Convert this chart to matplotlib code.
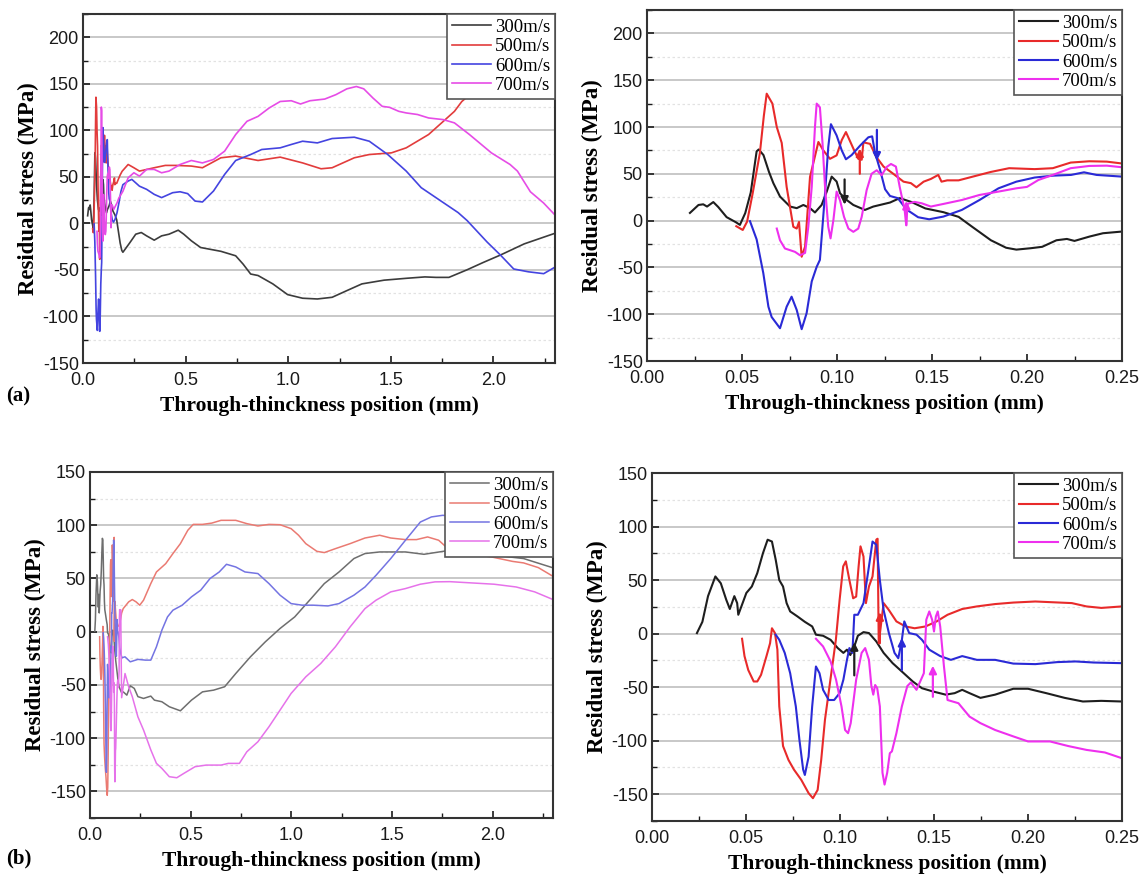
import numpy as np
import matplotlib
matplotlib.use("Agg")
import matplotlib.pyplot as plt
from matplotlib.ticker import MultipleLocator

plt.rcParams['axes.unicode_minus'] = False

LABELS = ["300m/s", "500m/s", "600m/s", "700m/s"]
XLABEL = "Through-thinckness position (mm)"
YLABEL = "Residual stress (MPa)"

# ---------------- (a) right panel (zoom 0-0.25 mm) ----------------
AR_300_x = [0.0226,0.0271,0.0296,0.0316,0.0349,0.0375,0.0419,0.047,0.0489,0.0517,0.0546,0.0577,0.0588,0.0613,0.0642,0.0665,0.07,0.0753,0.0788,0.0823,0.0858,0.0884,0.0919,0.0946,0.0972,0.0998,0.1016,0.1051,0.1086,0.1147,0.1191,0.1279,0.133,0.139,0.1465,0.156,0.164,0.171,0.181,0.189,0.1944,0.202,0.208,0.2155,0.221,0.225,0.233,0.240,0.25]
AR_300_y = [8.2,16.7,17.4,15,19.8,14.5,3.7,-2,-4.6,8,30,74,76,70,52,40,25.7,15,13.3,16.7,13.3,8.7,16.7,31,47,41.7,29.2,22,16.7,11.4,15,19.3,24,20,13,9,4,-6.4,-21,-29,-31,-29.5,-28,-21,-19.6,-21.7,-17,-13.5,-11.7]

AR_500_x = [0.047,0.0504,0.0527,0.0556,0.0594,0.0615,0.063,0.066,0.0683,0.0709,0.0735,0.077,0.0788,0.080,0.0814,0.0832,0.0858,0.0902,0.0928,0.0963,0.0998,0.1025,0.1047,0.1086,0.1112,0.113,0.1139,0.1174,0.1207,0.1245,0.1293,0.135,0.1389,0.1418,0.1456,0.1494,0.1533,0.155,0.158,0.164,0.1715,0.181,0.1906,0.204,0.2136,0.223,0.2328,0.242,0.25]
AR_500_y = [-6,-10,-1,29,72,112,135.6,125,100,83,36,-6.6,-8.5,-1.4,-38.6,-27.8,46.7,84,75,66,69.7,86,94.6,77,66,65,83.6,82,68,57.7,50.5,41.6,40,35.6,41.6,44.5,48.8,41.6,43,43,47,52,56,55,56,62,63.4,63,61]

AR_600_x = [0.0542,0.0577,0.0612,0.0639,0.0656,0.0700,0.0735,0.0761,0.0788,0.0814,0.0840,0.0867,0.0893,0.0910,0.0937,0.0954,0.0968,0.0998,0.1025,0.1047,0.1077,0.1121,0.1165,0.1185,0.1200,0.1226,0.1253,0.1279,0.132,0.1365,0.1427,0.1485,0.156,0.1657,0.175,0.185,0.1944,0.204,0.2136,0.2232,0.23,0.2366,0.25]
AR_600_y = [-0.6,-20.1,-56,-92,-103,-115,-92,-81.3,-95.5,-116,-99,-65,-49.4,-42,29,78.6,103,91,75,65.5,70,80,89,90,72.5,54.8,33.5,26.3,24,12,3.6,1.4,4.3,11.4,22,34.5,41.6,46,48,48.8,51.6,48.8,47]

AR_700_x = [0.0683,0.0700,0.0726,0.0753,0.0779,0.0805,0.0832,0.0849,0.0867,0.0884,0.0893,0.0910,0.0924,0.0937,0.0954,0.0966,0.0981,0.0998,0.1016,0.1037,0.1060,0.1086,0.1112,0.1130,0.1156,0.1182,0.1209,0.1235,0.1262,0.1284,0.131,0.133,0.1356,0.1364,0.1372,0.1408,0.1446,0.1494,0.156,0.1657,0.175,0.185,0.1944,0.2,0.206,0.2136,0.223,0.2328,0.242,0.25]
AR_700_y = [-8.5,-21,-29.8,-31.6,-33.4,-37,-34.5,-6.6,36,100,125,121,82,36,-6.6,-19,0.6,31,21.6,4,-8.5,-12,-8.5,4,32.5,50,53.8,48.5,57.4,60.5,57.7,36,11.4,-4.6,18,20,18.5,15,17.8,22,27.4,31,34.5,36,43.4,48.8,56,58.4,58.7,57]

# arrows (x, tail, head) per series order
AR_ARROW_x = [0.104, 0.112, 0.121, 0.1365]
AR_ARROW_tail = [44, 50, 97, -5]
AR_ARROW_head = [17, 77, 64, 21]

# ---------------- (a) left panel (full depth, x >= 0.2) ----------------
AL_300_x = [0.211,0.229,0.257,0.284,0.31,0.347,0.383,0.419,0.464,0.491,0.528,0.573,0.672,0.744,0.78,0.817,0.853,0.925,0.997,1.07,1.142,1.214,1.286,1.359,1.467,1.575,1.666,1.72,1.783,1.87,1.95,2.034,2.15,2.3]
AL_300_y = [-26,-20.5,-11.6,-9.8,-13.4,-18,-13.4,-11.6,-7.3,-11.6,-18.7,-25.9,-30,-34.8,-43.7,-54.4,-56,-65,-76.5,-80.4,-81.2,-79.4,-72.2,-65,-61,-59,-57.5,-58,-58,-50,-42,-34,-22,-10.6]

AL_500_x = [0.22,0.248,0.275,0.347,0.401,0.455,0.528,0.582,0.672,0.744,0.853,0.961,1.07,1.16,1.214,1.322,1.395,1.503,1.575,1.684,1.756,1.81,1.846,2.0,2.15,2.3]
AL_500_y = [63.3,59.8,56.2,59.8,62.3,62.3,61.6,59.8,70.5,72.3,67.6,71.2,65,58.7,59.8,70.5,74,75.8,81.2,95.5,109.7,120.4,131,160,178,192]

AL_600_x = [0.22,0.238,0.275,0.31,0.347,0.383,0.437,0.473,0.51,0.546,0.582,0.636,0.69,0.744,0.817,0.871,0.961,1.015,1.07,1.142,1.214,1.322,1.395,1.485,1.575,1.648,1.756,1.828,1.872,1.969,2.034,2.099,2.17,2.245,2.3]
AL_600_y = [45.5,47.3,40,36.6,31.2,27.7,33,34,32,24,23,34.8,52.6,67.6,74,79.4,81.2,84.8,88.3,86.5,91.2,92.6,88.3,74,56.2,38.4,22.3,11.6,3,-20,-34,-49,-52,-54,-47]

AL_700_x = [0.22,0.248,0.275,0.31,0.347,0.383,0.419,0.473,0.528,0.582,0.636,0.69,0.744,0.799,0.853,0.907,0.961,1.015,1.06,1.106,1.178,1.232,1.286,1.332,1.368,1.413,1.458,1.494,1.539,1.575,1.63,1.684,1.756,1.81,1.883,1.99,2.081,2.117,2.18,2.244,2.3]
AL_700_y = [49,54.4,50.8,58,58,54.4,56.2,63.3,67.6,65,68.7,77.6,95.5,109.7,115,124,131,131.8,128.3,131.8,133.6,138.3,144.6,147.1,144.6,134.7,125.8,124.7,120.4,118.7,117,113.3,111.5,108,95.5,75.8,63.3,56.2,34,22,9]

# ---------------- (b) right panel (zoom 0-0.25 mm) ----------------
BR_300_x = [0.0239,0.0268,0.0298,0.0337,0.0366,0.0395,0.0414,0.0438,0.0453,0.0459,0.0482,0.0502,0.0531,0.056,0.059,0.0615,0.0638,0.0658,0.0677,0.0697,0.0716,0.0735,0.0774,0.0813,0.0852,0.0872,0.091,0.095,0.0988,0.1018,0.1037,0.1055,0.1076,0.1095,0.1125,0.1154,0.1193,0.1232,0.128,0.1339,0.1387,0.1436,0.1494,0.1562,0.161,0.165,0.1689,0.1747,0.1825,0.1922,0.2,0.2097,0.2195,0.2292,0.239,0.25]
BR_300_y = [0.5,11,35,53.4,47,31.6,23,35,28.5,17.6,28.5,38,44,56.5,75,87.7,86,69,50,44,28.5,20.7,16,11,6.7,-1,-2,-5.8,-13.5,-18,-15,-20,-12,-2,1.4,0.5,-7.3,-18,-27.6,-37,-44.7,-51,-54,-57,-55.6,-52.5,-55.6,-60,-57,-51.5,-51.5,-55.6,-60,-63.4,-62.8,-63.4]

BR_500_x = [0.0479,0.0492,0.0512,0.0541,0.056,0.058,0.0609,0.0628,0.0638,0.0654,0.0667,0.0677,0.0697,0.0726,0.0755,0.0794,0.0833,0.0856,0.0881,0.09,0.092,0.0949,0.0978,0.0998,0.1017,0.1031,0.105,0.107,0.1086,0.1099,0.1109,0.1125,0.1138,0.1154,0.1173,0.1193,0.12,0.1206,0.1232,0.126,0.13,0.1348,0.1397,0.1455,0.1514,0.1572,0.165,0.1728,0.1825,0.1922,0.2039,0.2117,0.2233,0.2311,0.239,0.25]
BR_500_y = [-4.8,-21,-34,-44.7,-44.7,-38.5,-21,-9,5,0.5,-15,-68,-105,-118,-127,-136.6,-149,-153.7,-146,-118,-80.5,-43,-5.8,31.6,62.8,67.5,50,33,34.6,62.8,81.5,72,28.5,44,53.4,87.7,88.6,-9,28.5,22,11.4,6.7,5,6.7,11.4,17.6,23,25.4,27.6,29,30,29.4,28.5,25.4,24,25.4]

BR_600_x = [0.0658,0.0677,0.0706,0.0735,0.0765,0.0784,0.0804,0.0813,0.0833,0.0852,0.0872,0.0891,0.091,0.094,0.0969,0.0998,0.1018,0.1037,0.105,0.1066,0.1076,0.1095,0.1125,0.1154,0.1173,0.1193,0.1212,0.1232,0.126,0.129,0.131,0.1329,0.1342,0.1368,0.1407,0.1436,0.1475,0.1533,0.159,0.165,0.1728,0.1825,0.1922,0.2039,0.2156,0.2253,0.235,0.25]
BR_600_y = [-1,-5.8,-18,-37,-68,-99,-127,-132,-115,-68,-30.7,-37,-52.5,-62,-62,-55.6,-43,-24.5,-13.5,-18,17.6,17.6,28.5,62.8,86,83,50,22,0.5,-18,-23,-6,11.4,0.5,-1,-5.8,-15,-21,-24.5,-21,-24.5,-24.5,-28,-28.5,-26.6,-26,-27,-27.6]

BR_700_x = [0.0872,0.091,0.095,0.0979,0.1008,0.1027,0.1043,0.1057,0.1086,0.1115,0.1134,0.1154,0.1167,0.1177,0.1187,0.1198,0.1212,0.1226,0.1237,0.1251,0.1265,0.1276,0.13,0.1329,0.1358,0.1377,0.1407,0.1446,0.1459,0.1475,0.149,0.1500,0.151,0.152,0.1533,0.1553,0.1572,0.163,0.1689,0.1747,0.1825,0.1922,0.2,0.2117,0.2214,0.2311,0.2409,0.25]
BR_700_y = [-4.8,-12,-26,-43,-68,-90,-93,-83.6,-43,-18,-13.5,-24.5,-49,-57,-48,-51,-68,-130,-141,-130,-111.7,-110,-93,-68,-49,-45.6,-52.5,-37,13,20.7,13,2,16,20.7,6.7,-30.7,-62,-65,-77.5,-83.6,-90,-96,-100.7,-100.7,-105,-108.6,-111,-116.4]

BR_ARROW_x = [0.1076, 0.1212, 0.1329, 0.1494]
BR_ARROW_tail = [-39, -9, -34, -59]
BR_ARROW_head = [-8, 20, -4, -30]

# ---------------- (b) left panel (full depth, x >= 0.16) ----------------
BL_300_x = [0.165,0.183,0.2,0.22,0.238,0.266,0.302,0.32,0.357,0.394,0.449,0.504,0.559,0.614,0.669,0.724,0.797,0.871,0.944,1.017,1.091,1.164,1.237,1.311,1.366,1.439,1.494,1.567,1.659,1.769,1.9,2.0,2.154,2.3]
BL_300_y = [-56.5,-59.6,-50.8,-53.3,-61,-62.7,-60.5,-64.3,-65.8,-70.5,-74.3,-64.3,-56.5,-54.9,-51.7,-39.3,-23.6,-9.5,3,13.9,29.6,45.2,56.1,68.7,73.4,74.9,74.9,74.9,72.7,75.9,74,72,68.7,60]

BL_500_x = [0.165,0.192,0.21,0.229,0.247,0.266,0.302,0.33,0.376,0.412,0.449,0.486,0.513,0.559,0.605,0.651,0.724,0.779,0.834,0.889,0.944,0.999,1.036,1.072,1.127,1.164,1.219,1.292,1.366,1.439,1.494,1.567,1.622,1.677,1.732,1.769,1.9,2.0,2.1,2.154,2.227,2.3]
BL_500_y = [21.7,28,30.2,28,24.9,29.6,45.2,56.1,63.9,73.4,82.7,95.3,100.8,100.8,102,104.6,104.6,101.5,99.3,100.8,100.5,96.8,90.6,82.7,75.5,74.3,78,82.7,88,90.6,88,86.5,86.5,89,85.9,79.6,73,70,66,64.6,60.2,52]

BL_600_x = [0.174,0.2,0.238,0.275,0.302,0.33,0.357,0.385,0.412,0.458,0.504,0.55,0.596,0.642,0.678,0.724,0.77,0.834,0.889,0.944,0.999,1.054,1.109,1.182,1.237,1.311,1.366,1.421,1.494,1.567,1.641,1.696,1.751,1.9,2.1,2.3]
BL_600_y = [-23.6,-28.3,-26,-26.7,-26.7,-14.2,1.4,13.9,20.2,24.9,32.7,39,49.9,56.1,63.3,60.8,56.1,54.6,45.2,34.3,26.4,24.9,24.9,24.2,26.4,34.3,42,53,68.7,85.9,103,107.8,109.3,108,100,90]

BL_700_x = [0.174,0.192,0.21,0.238,0.266,0.302,0.33,0.357,0.394,0.431,0.467,0.522,0.577,0.651,0.687,0.742,0.779,0.834,0.889,0.944,0.999,1.072,1.146,1.219,1.292,1.366,1.421,1.494,1.567,1.641,1.714,1.787,1.897,2.007,2.117,2.209,2.3]
BL_700_y = [-39.3,-51.7,-61,-80,-92.4,-111,-123.7,-128.4,-136.2,-137.2,-133,-126.8,-125.3,-125.3,-123.7,-123.7,-112.8,-103.4,-89.3,-73.7,-58,-42.4,-29.9,-14.2,4.5,21.7,29.6,37.4,40.5,44.6,46.8,47,45.8,44.6,42,37.4,30.2]

COLORS_RIGHT = ["#1e1e1e", "#e82a2a", "#2a2ad6", "#ee30ee"]
COLORS_AL = ["#3c3c3c", "#e23c3c", "#4444e0", "#e64ce6"]
COLORS_BL = ["#6e6e6e", "#ea7a72", "#7474e2", "#e672ea"]

W, H = 1146, 877
fig = plt.figure(figsize=(W / 100, H / 100), dpi=100)


def splice(xr, yr, xl, yl, cut):
    xr = np.asarray(xr); yr = np.asarray(yr)
    xl = np.asarray(xl); yl = np.asarray(yl)
    m1 = xr < cut
    m2 = xl >= cut
    return np.concatenate([xr[m1], xl[m2]]), np.concatenate([yr[m1], yl[m2]])


def style(ax, xlim, ylim, xmaj, xmin):
    ax.set_xlim(*xlim)
    ax.set_ylim(*ylim)
    ax.xaxis.set_major_locator(MultipleLocator(xmaj))
    ax.xaxis.set_minor_locator(MultipleLocator(xmin))
    ax.yaxis.set_major_locator(MultipleLocator(50))
    ax.yaxis.set_minor_locator(MultipleLocator(25))
    ax.grid(True, which='major', axis='y', color='#c4c4c4', lw=1.3)
    ax.grid(True, which='minor', axis='y', color='#e2e2e2', lw=0.9, ls=(0, (2, 2)))
    ax.set_axisbelow(True)
    ax.tick_params(which='both', direction='in', top=False, right=False,
                   labelsize=13, colors='#1a1a1a')
    ax.tick_params(axis='y', which='both', pad=3)
    ax.tick_params(axis='x', which='both', pad=6.5)
    ax.tick_params(which='major', length=5, width=1.2)
    ax.tick_params(which='minor', length=3.5, width=1.0)
    for lab in ax.get_xticklabels() + ax.get_yticklabels():
        lab.set_fontfamily('Liberation Sans')
    for s in ax.spines.values():
        s.set_color('#333333')
        s.set_linewidth(1.5)
    ax.set_xlabel(XLABEL, fontfamily='Liberation Serif', fontweight='bold',
                  fontsize=15.5, labelpad=5)
    ax.set_ylabel(YLABEL, fontfamily='Liberation Serif', fontweight='bold',
                  fontsize=16.5, labelpad=3)
    leg = ax.legend(loc='upper right', borderaxespad=0, fancybox=False,
                    framealpha=1, edgecolor='#555555', handlelength=2.1,
                    handletextpad=0.2, labelspacing=0.12, borderpad=0.25,
                    prop={'family': 'Liberation Serif', 'size': 13.5})
    leg.get_frame().set_linewidth(1.2)
    leg.set_zorder(10)


def arrows(ax, xs, tails, heads, colors):
    for x, t, h, c in zip(xs, tails, heads, colors):
        ax.annotate('', xy=(x, h), xytext=(x, t),
                    arrowprops=dict(arrowstyle='-|>', color=c, lw=1.6,
                                    mutation_scale=11, shrinkA=0, shrinkB=0))


AR = [(AR_300_x, AR_300_y), (AR_500_x, AR_500_y), (AR_600_x, AR_600_y), (AR_700_x, AR_700_y)]
AL = [(AL_300_x, AL_300_y), (AL_500_x, AL_500_y), (AL_600_x, AL_600_y), (AL_700_x, AL_700_y)]
BR = [(BR_300_x, BR_300_y), (BR_500_x, BR_500_y), (BR_600_x, BR_600_y), (BR_700_x, BR_700_y)]
BL = [(BL_300_x, BL_300_y), (BL_500_x, BL_500_y), (BL_600_x, BL_600_y), (BL_700_x, BL_700_y)]

# (a) left
ax1 = fig.add_axes([83 / W, 1 - 363 / H, 472 / W, 349 / H])
for (xr, yr), (xl, yl), c, lab in zip(AR, AL, COLORS_AL, LABELS):
    x, y = splice(xr, yr, xl, yl, 0.2)
    ax1.plot(x, y, color=c, lw=1.2, label=lab)
style(ax1, (0, 2.3), (-150, 225), 0.5, 0.25)

# (a) right
ax2 = fig.add_axes([647 / W, 1 - 361 / H, 475 / W, 351 / H])
for (x, y), c, lab in zip(AR, COLORS_RIGHT, LABELS):
    ax2.plot(x, y, color=c, lw=1.5, label=lab)
arrows(ax2, AR_ARROW_x, AR_ARROW_tail, AR_ARROW_head, COLORS_RIGHT)
style(ax2, (0, 0.25), (-150, 225), 0.05, 0.025)

# (b) left
ax3 = fig.add_axes([90 / W, 1 - 818 / H, 463 / W, 346 / H])
for (xr, yr), (xl, yl), c, lab in zip(BR, BL, COLORS_BL, LABELS):
    x, y = splice(xr, yr, xl, yl, 0.16)
    ax3.plot(x, y, color=c, lw=1.1, label=lab)
style(ax3, (0, 2.3), (-175, 150), 0.5, 0.25)

# (b) right
ax4 = fig.add_axes([652 / W, 1 - 821 / H, 470 / W, 348 / H])
for (x, y), c, lab in zip(BR, COLORS_RIGHT, LABELS):
    ax4.plot(x, y, color=c, lw=1.5, label=lab)
arrows(ax4, BR_ARROW_x, BR_ARROW_tail, BR_ARROW_head, COLORS_RIGHT)
style(ax4, (0, 0.25), (-175, 150), 0.05, 0.025)

fig.text(6 / W, 1 - 396 / H, '(a)', fontfamily='Liberation Serif', fontweight='bold',
         fontsize=15, va='center', ha='left')
fig.text(6 / W, 1 - 858 / H, '(b)', fontfamily='Liberation Serif', fontweight='bold',
         fontsize=15, va='center', ha='left')

fig.savefig('out.png', dpi=100)
